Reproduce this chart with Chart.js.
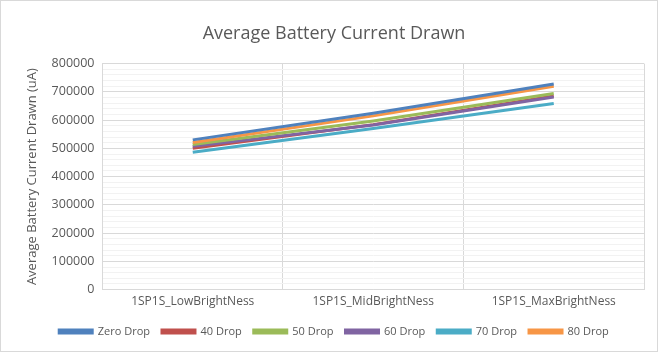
<!DOCTYPE html>
<html>
<head>
<meta charset="utf-8">
<script src="https://cdn.jsdelivr.net/npm/chart.js@4"></script>
<style>
  html, body { margin: 0; padding: 0; background: #fff; }
  #wrap { width: 656px; height: 350px; border: 1px solid #d9d9d9; position: relative; }
</style>
</head>
<body>
<div id="wrap"><canvas id="batteryChart" width="656" height="350"></canvas></div>
<script>
var categories = ['1SP1S_LowBrightNess', '1SP1S_MidBrightNess', '1SP1S_MaxBrightNess'];
var seriesNames = ['Zero Drop', '40 Drop', '50 Drop', '60 Drop', '70 Drop', '80 Drop'];
var zeroDrop = [530000, 624000, 728000];
var drop40 = [500000, 584000, 685000];
var drop50 = [514000, 597000, 694000];
var drop60 = [507000, 583000, 682000];
var drop70 = [486000, 570000, 659000];
var drop80 = [521000, 615000, 720000];
var colors = ['#4f81bd', '#c0504d', '#9bbb59', '#8064a2', '#4bacc6', '#f79646'];

var allValues = [zeroDrop, drop40, drop50, drop60, drop70, drop80];
var datasets = allValues.map(function (vals, i) {
    return {
        label: seriesNames[i],
        data: vals,
        borderColor: colors[i],
        backgroundColor: colors[i],
        borderWidth: 3,
        pointRadius: 0,
        tension: 0,
        order: [0, 4, 2, 3, 5, 1][i] // which line sits on top
    };
});

var ctx = document.getElementById('batteryChart').getContext('2d');
var batteryChart = new Chart(ctx, {
    type: 'line',
    data: { labels: categories, datasets: datasets },
    options: {
        responsive: false,
        animation: false,
        layout: { padding: { left: 23, right: 13, top: 0, bottom: 4 } },
        plugins: {
            title: {
                display: true,
                text: 'Average Battery Current Drawn',
                color: '#595959',
                font: { family: 'Open Sans', size: 18, weight: 'normal' },
                padding: { top: 22, bottom: 19 }
            },
            legend: {
                position: 'bottom',
                labels: {
                    color: '#595959',
                    font: { family: 'Open Sans', size: 11 },
                    boxWidth: 33,
                    boxHeight: 3,
                    padding: 12,
                    sort: function (a, b) { return a.datasetIndex - b.datasetIndex; }
                }
            },
            tooltip: { enabled: false }
        },
        scales: {
            x: {
                offset: true,
                grid: { offset: true, color: '#d9d9d9', drawTicks: false },
                border: { color: '#d9d9d9' },
                ticks: {
                    color: '#595959',
                    font: { family: 'Open Sans', size: 12 },
                    padding: 5,
                    maxRotation: 0
                }
            },
            y: {
                min: 0,
                max: 800000,
                grid: {
                    drawTicks: false,
                    color: function (c) {
                        return c.tick && c.tick.value % 100000 === 0 ? '#d9d9d9' : '#f2f2f2';
                    }
                },
                border: { color: '#d9d9d9' },
                ticks: {
                    stepSize: 20000,
                    autoSkip: false,
                    color: '#595959',
                    font: { family: 'Open Sans', size: 12.5 },
                    padding: 8,
                    callback: function (v) {
                        return v % 100000 === 0 ? String(v) : '';
                    }
                },
                title: {
                    display: true,
                    text: 'Average Battery Current Drawn (uA)',
                    color: '#595959',
                    font: { family: 'Open Sans', size: 13 },
                    padding: { top: 0, bottom: 4 }
                }
            }
        }
    }
});
</script>
</body>
</html>
